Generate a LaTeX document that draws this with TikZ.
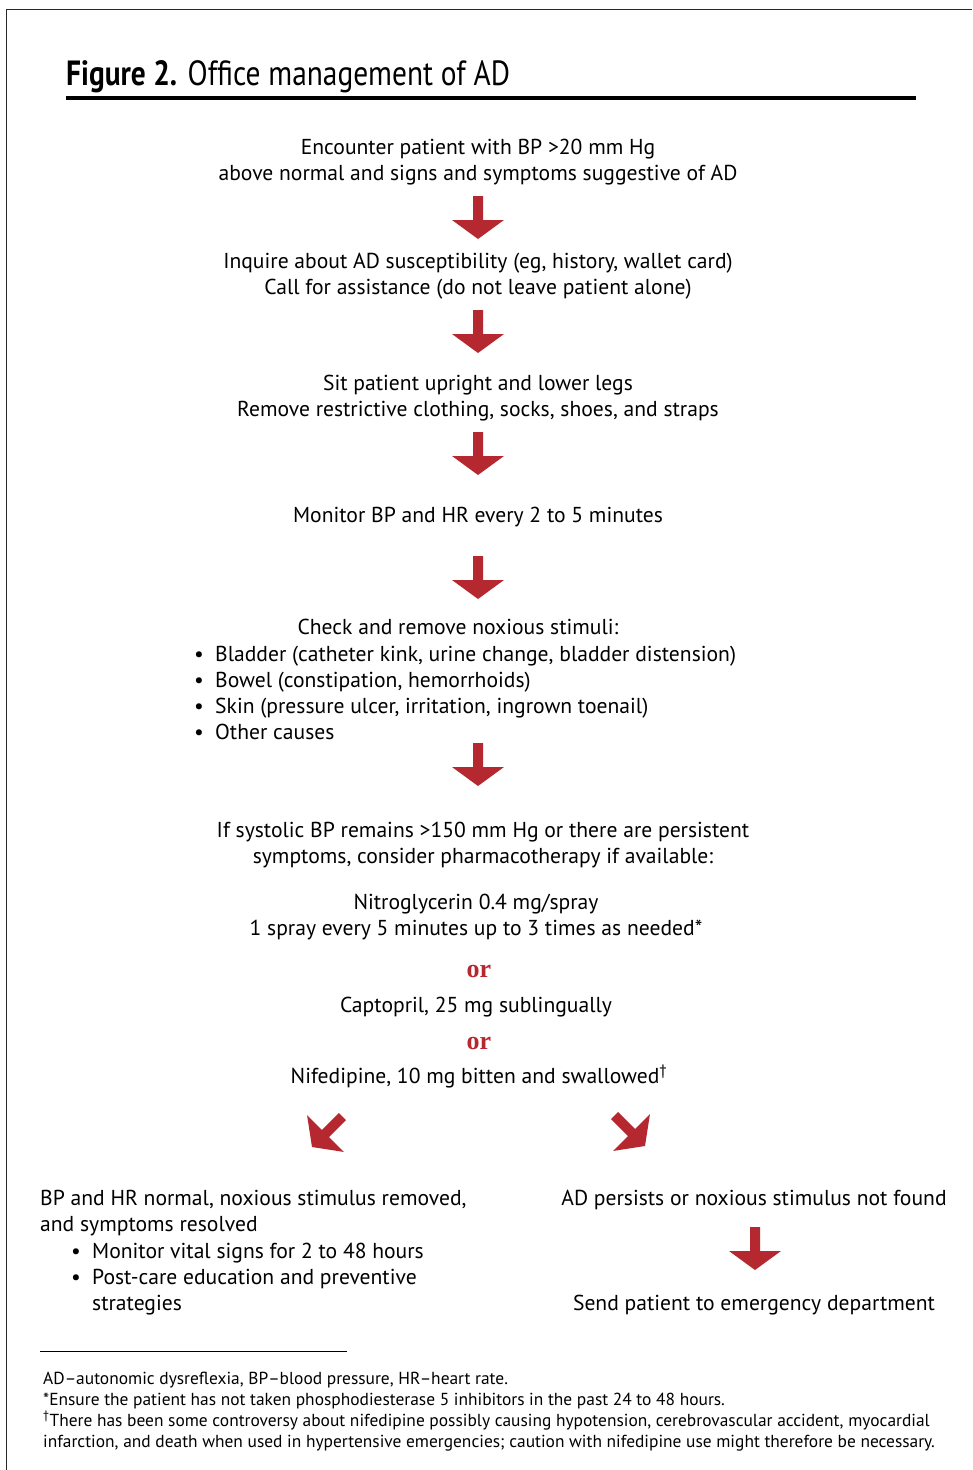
\documentclass[tikz,border=0pt]{standalone}
\usepackage{fontspec}
\setmainfont{PT Sans}
\newfontfamily\orfont{Liberation Serif}
\definecolor{adred}{RGB}{181,40,48}
\definecolor{framegray}{RGB}{40,40,40}
\tikzset{
  flow/.style={font=\fontsize{21.6}{26}\selectfont, align=center, inner sep=0pt, anchor=base},
  flowleft/.style={font=\fontsize{21.6}{26}\selectfont, align=left, inner sep=0pt, anchor=base west},
  ortext/.style={font=\orfont\bfseries\fontsize{26}{28}\selectfont, text=adred, inner sep=0pt, anchor=base},
  foot/.style={font=\fontsize{17.4}{21}\selectfont, align=left, inner sep=0pt, anchor=base west},
  pics/bigarrow/.style={code={
    \fill[adred] (0,0) -- (-26,-19) -- (-5,-19) -- (-5,-43) -- (5,-43) -- (5,-19) -- (26,-19) -- cycle;}},
}
\newcommand{\bul}{\makebox[21pt][l]{\textbullet}}
\newcommand{\nobul}{\makebox[21pt][l]{}}
\begin{document}
\begin{tikzpicture}[x=1pt,y=-1pt]
\useasboundingbox (0,0) rectangle (972,1470);
% frame
\draw[framegray, line width=1.5pt] (6.5,1470) -- (6.5,9.5) -- (972,9.5);
% title
\node[anchor=base west, inner sep=0pt] (title) at (66,85)
  {\scalebox{0.84}[1]{\fontsize{35}{40}\selectfont\textbf{Figure 2.} Office management of AD}};
\coordinate (ruleL) at (66,98);
\coordinate (ruleR) at (916,98);
\draw[line width=4pt] (ruleL) -- (ruleR);
% flow (multi-line nodes are placed at the baseline of their last line)
\node[flow] (s1) at (478,180) {Encounter patient with BP >20 mm Hg\\above normal and signs and symptoms suggestive of AD};
\pic (a1) at (478,239) {bigarrow};
\node[flow] (s2) at (478,294) {Inquire about AD susceptibility (eg, history, wallet card)\\Call for assistance (do not leave patient alone)};
\pic (a2) at (478,353) {bigarrow};
\node[flow] (s3) at (478,416) {Sit patient upright and lower legs\\Remove restrictive clothing, socks, shoes, and straps};
\pic (a3) at (478,475) {bigarrow};
\node[flow] (s4) at (478,522) {Monitor BP and HR every 2 to 5 minutes};
\pic (a4) at (478,599) {bigarrow};
\node[flow] (s5) at (458,634) {Check and remove noxious stimuli:};
\node[flowleft] (s5list) at (194,739) {\bul Bladder (catheter kink, urine change, bladder distension)\\
\bul Bowel (constipation, hemorrhoids)\\
\bul Skin (pressure ulcer, irritation, ingrown toenail)\\
\bul Other causes};
\pic (a5) at (478,786) {bigarrow};
\node[flow] (s6) at (483,863) {If systolic BP remains >150 mm Hg or there are persistent\\symptoms, consider pharmacotherapy if available:};
\node[flow] (d1) at (476,935) {Nitroglycerin 0.4 mg/spray\\1 spray every 5 minutes up to 3 times as needed*};
\node[ortext] (or1) at (479,977) {or};
\node[flow] (d2) at (476,1012) {Captopril, 25 mg sublingually};
\node[ortext] (or2) at (479,1049) {or};
\node[flow] (d3) at (479,1083) {Nifedipine, 10 mg bitten and swallowed\textsuperscript{\dag}};
\pic[rotate=-45] (aL) at (312,1147) {bigarrow};
\pic[rotate=45] (aR) at (645,1146) {bigarrow};
\node[flowleft] (l1) at (40,1231) {BP and HR normal, noxious stimulus removed,\\and symptoms resolved};
\node[flowleft] (l2) at (71,1310) {\bul Monitor vital signs for 2 to 48 hours\\
\bul Post-care education and preventive\\
\nobul strategies};
\node[flow] (r1) at (754,1205) {AD persists or noxious stimulus not found};
\pic (aD) at (755,1270) {bigarrow};
\node[flow] (r2) at (754,1310) {Send patient to emergency department};
% footnotes
\coordinate (fnL) at (40,1351);
\coordinate (fnR) at (347,1351);
\draw[line width=1pt] (fnL) -- (fnR);
\node[foot] (f1) at (43,1384) {AD–autonomic dysreflexia, BP–blood pressure, HR–heart rate.};
\node[foot] (f2) at (43,1405) {*Ensure the patient has not taken phosphodiesterase 5 inhibitors in the past 24 to 48 hours.};
\node[foot] (f3) at (43,1447) {\textsuperscript{\dag}There has been some controversy about nifedipine possibly causing hypotension, cerebrovascular accident, myocardial\\infarction, and death when used in hypertensive emergencies; caution with nifedipine use might therefore be necessary.};
\end{tikzpicture}
\end{document}
